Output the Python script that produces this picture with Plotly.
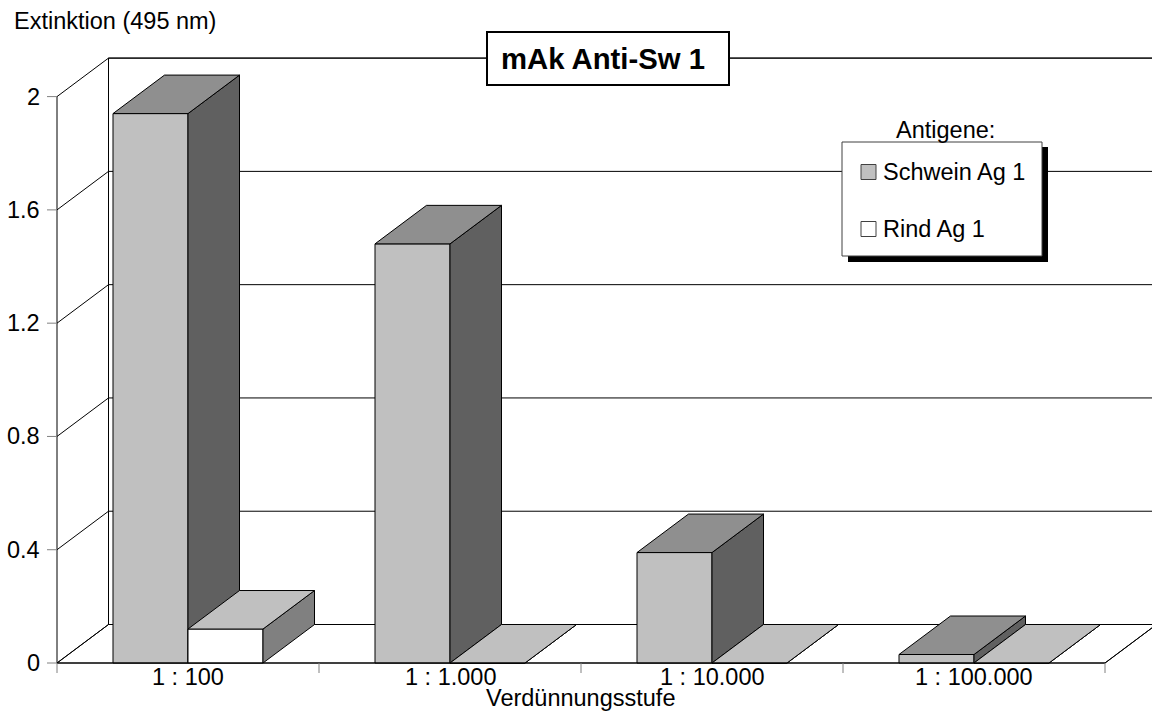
import plotly.graph_objects as go

# ---- data -------------------------------------------------------------
categories = ["1 : 100", "1 : 1.000", "1 : 10.000", "1 : 100.000"]
series_names = ["Schwein Ag 1", "Rind Ag 1"]
schwein_ag1 = [1.94, 1.48, 0.39, 0.03]
rind_ag1 = [0.12, 0.0, 0.0, 0.0]
y_tick_values = [0, 0.4, 0.8, 1.2, 1.6, 2.0]
y_tick_labels = ["0", "0.4", "0.8", "1.2", "1.6", "2"]

series_values = [schwein_ag1, rind_ag1]

# face colours per series: front, top, side
face_colors = [
    ("#C0C0C0", "#8F8F8F", "#606060"),
    ("#FFFFFF", "#C0C0C0", "#808080"),
]

# ---- geometry of the pseudo-3D frame ---------------------------------
W, H = 1152, 713
PX_PER_CAT = 262.0          # pixels per category slot
PX_PER_UNIT = 283.2         # pixels per unit of extinction
ORIGIN_PX = (57.0, 663.0)   # front-left corner of the floor
DEPTH_X = 51.5 / PX_PER_CAT
DEPTH_Y = 38.5 / PX_PER_UNIT
GAP = 56.0 / PX_PER_CAT     # gap before the first bar of each slot
BAR_W = 75.0 / PX_PER_CAT   # width of each bar
Y_TOP = y_tick_values[-1]
N = len(categories)

FONT = "Liberation Sans, Arial, sans-serif"
FS = 23.5


def px_x(px):
    return (px - ORIGIN_PX[0]) / PX_PER_CAT


def px_y(py):
    return (ORIGIN_PX[1] - py) / PX_PER_UNIT


def poly(xs, ys, fill, line_color="black", width=1):
    return go.Scatter(
        x=list(xs) + [xs[0]], y=list(ys) + [ys[0]],
        mode="lines", fill="toself", fillcolor=fill,
        line=dict(color=line_color, width=width),
        hoverinfo="skip", showlegend=False,
    )


def seg(xs, ys, color="black", width=1):
    return go.Scatter(
        x=xs, y=ys, mode="lines",
        line=dict(color=color, width=width),
        hoverinfo="skip", showlegend=False,
    )


fig = go.Figure()

# floor
fig.add_trace(poly([0, N, N + DEPTH_X, DEPTH_X], [0, 0, DEPTH_Y, DEPTH_Y], "white"))
# back wall
fig.add_trace(poly([DEPTH_X, N + DEPTH_X, N + DEPTH_X, DEPTH_X],
                   [DEPTH_Y, DEPTH_Y, Y_TOP + DEPTH_Y, Y_TOP + DEPTH_Y], "white"))

# gridlines: back wall horizontals and side wall diagonals
for v in y_tick_values:
    fig.add_trace(seg([0, DEPTH_X, N + DEPTH_X], [v, v + DEPTH_Y, v + DEPTH_Y]))
# wall edges
fig.add_trace(seg([0, 0], [0, Y_TOP]))
fig.add_trace(seg([DEPTH_X, DEPTH_X], [DEPTH_Y, Y_TOP + DEPTH_Y]))

# bars, painted from left to right
for c in range(N):
    for s, values in enumerate(series_values):
        v = values[c]
        x0 = c + GAP + s * BAR_W
        x1 = x0 + BAR_W
        front, top, side = face_colors[s]
        fig.add_trace(poly([x0, x1, x1, x0], [0, 0, v, v], front))
        fig.add_trace(poly([x1, x1 + DEPTH_X, x1 + DEPTH_X, x1],
                           [0, DEPTH_Y, v + DEPTH_Y, v], side))
        fig.add_trace(poly([x0, x1, x1 + DEPTH_X, x0 + DEPTH_X],
                           [v, v, v + DEPTH_Y, v + DEPTH_Y], top))

# front floor edge
fig.add_trace(seg([0, N, N + DEPTH_X], [0, 0, DEPTH_Y]))

# tick marks
tick_len_x = 10 / PX_PER_CAT
tick_len_y = 10 / PX_PER_UNIT
for v in y_tick_values:
    fig.add_trace(seg([-tick_len_x, 0], [v, v], color="#808080"))
for c in range(N + 1):
    fig.add_trace(seg([c, c], [0, -tick_len_y], color="#808080"))

annotations = []
for v, lab in zip(y_tick_values, y_tick_labels):
    annotations.append(dict(
        x=-15 / PX_PER_CAT, y=v, xref="x", yref="y", text=lab,
        xanchor="right", yanchor="middle", showarrow=False,
        font=dict(family=FONT, size=FS, color="black")))
for c, lab in enumerate(categories):
    annotations.append(dict(
        x=c + 0.5, y=px_y(662), xref="x", yref="y", text=lab,
        xanchor="center", yanchor="top", showarrow=False,
        font=dict(family=FONT, size=FS, color="black")))

# axis titles
annotations.append(dict(
    x=px_x(12), y=px_y(21), xref="x", yref="y", text="Extinktion (495 nm)",
    xanchor="left", yanchor="middle", showarrow=False,
    font=dict(family=FONT, size=FS, color="black")))
annotations.append(dict(
    x=px_x(580), y=px_y(698), xref="x", yref="y", text="Verdünnungsstufe",
    xanchor="center", yanchor="middle", showarrow=False,
    font=dict(family=FONT, size=FS, color="black")))

# chart title in a framed box
shapes = [dict(type="rect", xref="x", yref="y",
               x0=px_x(487), x1=px_x(729), y0=px_y(32), y1=px_y(85),
               line=dict(color="black", width=2), fillcolor="white", layer="above")]
annotations.append(dict(
    x=px_x(603), y=px_y(58), xref="x", yref="y", text="<b>mAk Anti-Sw 1</b>",
    xanchor="center", yanchor="middle", showarrow=False,
    font=dict(family=FONT, size=29.3, color="black")))

# legend box with drop shadow
shapes.append(dict(type="rect", xref="x", yref="y",
                   x0=px_x(848), x1=px_x(1048), y0=px_y(147), y1=px_y(262),
                   line=dict(width=0), fillcolor="black", layer="above"))
shapes.append(dict(type="rect", xref="x", yref="y",
                   x0=px_x(842), x1=px_x(1042), y0=px_y(142), y1=px_y(256),
                   line=dict(color="#404040", width=1), fillcolor="white", layer="above"))
annotations.append(dict(
    x=px_x(945), y=px_y(130), xref="x", yref="y", text="Antigene:",
    xanchor="center", yanchor="middle", showarrow=False,
    font=dict(family=FONT, size=FS, color="black")))
for s, name in enumerate(series_names):
    cy = 172 + s * 57
    shapes.append(dict(type="rect", xref="x", yref="y",
                       x0=px_x(861), x1=px_x(876), y0=px_y(cy - 7.5), y1=px_y(cy + 7.5),
                       line=dict(color="#404040", width=1),
                       fillcolor=face_colors[s][0], layer="above"))
    annotations.append(dict(
        x=px_x(881), y=px_y(cy), xref="x", yref="y", text=name,
        xanchor="left", yanchor="middle", showarrow=False,
        font=dict(family=FONT, size=FS, color="black")))

fig.update_layout(
    width=W, height=H,
    margin=dict(l=0, r=0, t=0, b=0),
    paper_bgcolor="white", plot_bgcolor="white",
    xaxis=dict(range=[px_x(0), px_x(W)], visible=False, fixedrange=True),
    yaxis=dict(range=[px_y(H), px_y(0)], visible=False, fixedrange=True),
    shapes=shapes, annotations=annotations,
    showlegend=False,
)

fig.write_html("out.html")
